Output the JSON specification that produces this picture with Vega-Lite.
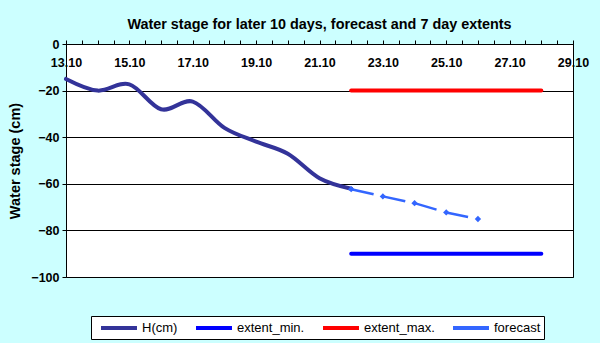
{
  "$schema": "https://vega.github.io/schema/vega-lite/v6.json",
  "width": 507,
  "height": 233,
  "autosize": {"type": "none"},
  "padding": {"left": 66, "top": 44, "right": 27, "bottom": 66},
  "background": "#CCFFFF",
  "title": {
    "text": "Water stage for later 10 days, forecast and 7 day  extents",
    "fontSize": 14.4,
    "fontWeight": "bold",
    "font": "Liberation Sans",
    "color": "black",
    "baseline": "bottom",
    "offset": -8
  },
  "config": {
    "font": "Liberation Sans",
    "view": {"fill": "white", "stroke": "black", "strokeWidth": 1}
  },
  "data": {
    "values": [
      {"date": "2011-10-13T00:00:00", "value": -15, "series": "H(cm)"},
      {"date": "2011-10-14T00:00:00", "value": -20, "series": "H(cm)"},
      {"date": "2011-10-15T00:00:00", "value": -17.3, "series": "H(cm)"},
      {"date": "2011-10-16T00:00:00", "value": -28, "series": "H(cm)"},
      {"date": "2011-10-17T00:00:00", "value": -24.7, "series": "H(cm)"},
      {"date": "2011-10-18T00:00:00", "value": -36, "series": "H(cm)"},
      {"date": "2011-10-19T00:00:00", "value": -41.9, "series": "H(cm)"},
      {"date": "2011-10-20T00:00:00", "value": -47.1, "series": "H(cm)"},
      {"date": "2011-10-21T00:00:00", "value": -57.6, "series": "H(cm)"},
      {"date": "2011-10-22T00:00:00", "value": -62.1, "series": "H(cm)"},
      {"date": "2011-10-22T00:00:00", "value": -90, "series": "extent_min."},
      {"date": "2011-10-28T00:00:00", "value": -90, "series": "extent_min."},
      {"date": "2011-10-22T00:00:00", "value": -20, "series": "extent_max."},
      {"date": "2011-10-28T00:00:00", "value": -20, "series": "extent_max."},
      {"date": "2011-10-22T00:00:00", "value": -62.3, "series": "forecast"},
      {"date": "2011-10-23T00:00:00", "value": -65.4, "series": "forecast"},
      {"date": "2011-10-24T00:00:00", "value": -68.3, "series": "forecast"},
      {"date": "2011-10-25T00:00:00", "value": -72.3, "series": "forecast"},
      {"date": "2011-10-26T00:00:00", "value": -75.1, "series": "forecast"}
    ]
  },
  "encoding": {
    "x": {
      "field": "date",
      "type": "temporal",
      "scale": {
        "domain": [
          {"year": 2011, "month": 10, "date": 13},
          {"year": 2011, "month": 10, "date": 29}
        ],
        "nice": false
      },
      "axis": {
        "orient": "top",
        "title": null,
        "grid": false,
        "domain": true,
        "domainColor": "black",
        "domainWidth": 1,
        "ticks": true,
        "tickColor": "black",
        "tickSize": 4,
        "values": [
          {"year": 2011, "month": 10, "date": 13}, {"year": 2011, "month": 10, "date": 13, "hours": 12},
          {"year": 2011, "month": 10, "date": 14}, {"year": 2011, "month": 10, "date": 14, "hours": 12},
          {"year": 2011, "month": 10, "date": 15}, {"year": 2011, "month": 10, "date": 15, "hours": 12},
          {"year": 2011, "month": 10, "date": 16}, {"year": 2011, "month": 10, "date": 16, "hours": 12},
          {"year": 2011, "month": 10, "date": 17}, {"year": 2011, "month": 10, "date": 17, "hours": 12},
          {"year": 2011, "month": 10, "date": 18}, {"year": 2011, "month": 10, "date": 18, "hours": 12},
          {"year": 2011, "month": 10, "date": 19}, {"year": 2011, "month": 10, "date": 19, "hours": 12},
          {"year": 2011, "month": 10, "date": 20}, {"year": 2011, "month": 10, "date": 20, "hours": 12},
          {"year": 2011, "month": 10, "date": 21}, {"year": 2011, "month": 10, "date": 21, "hours": 12},
          {"year": 2011, "month": 10, "date": 22}, {"year": 2011, "month": 10, "date": 22, "hours": 12},
          {"year": 2011, "month": 10, "date": 23}, {"year": 2011, "month": 10, "date": 23, "hours": 12},
          {"year": 2011, "month": 10, "date": 24}, {"year": 2011, "month": 10, "date": 24, "hours": 12},
          {"year": 2011, "month": 10, "date": 25}, {"year": 2011, "month": 10, "date": 25, "hours": 12},
          {"year": 2011, "month": 10, "date": 26}, {"year": 2011, "month": 10, "date": 26, "hours": 12},
          {"year": 2011, "month": 10, "date": 27}, {"year": 2011, "month": 10, "date": 27, "hours": 12},
          {"year": 2011, "month": 10, "date": 28}, {"year": 2011, "month": 10, "date": 28, "hours": 12},
          {"year": 2011, "month": 10, "date": 29}
        ],
        "labelExpr": "hours(datum.value) == 0 && date(datum.value) % 2 == 1 ? timeFormat(datum.value, '%d.%m') : ''",
        "labelOverlap": false,
        "labelFlush": false,
        "labelBaseline": "middle",
        "labelPadding": -22,
        "labelFont": "Liberation Sans",
        "labelFontSize": 12.5,
        "labelFontWeight": "bold",
        "labelColor": "black"
      }
    },
    "y": {
      "field": "value",
      "type": "quantitative",
      "scale": {"domain": [-100, 0], "nice": false},
      "axis": {
        "title": "Water stage (cm)",
        "titleFont": "Liberation Sans",
        "titleFontSize": 14.5,
        "titleFontWeight": "bold",
        "titleColor": "black",
        "titlePadding": 8,
        "values": [-100, -80, -60, -40, -20, 0],
        "grid": true,
        "gridColor": "black",
        "gridWidth": 1,
        "gridOpacity": 1,
        "domain": false,
        "tickColor": "black",
        "tickSize": 4,
        "labelPadding": 3,
        "labelFont": "Liberation Sans",
        "labelFontSize": 12.5,
        "labelFontWeight": "bold",
        "labelColor": "black"
      }
    },
    "color": {
      "field": "series",
      "type": "nominal",
      "scale": {
        "domain": ["H(cm)", "extent_min.", "extent_max.", "forecast"],
        "range": ["#333399", "#0000FF", "#FF0000", "#3366FF"]
      },
      "legend": {
        "title": null,
        "orient": "none",
        "legendX": 25,
        "legendY": 272,
        "direction": "horizontal",
        "fillColor": "white",
        "strokeColor": "black",
        "padding": 3,
        "symbolType": "M-2.57,0L2.57,0",
        "symbolSize": 196,
        "symbolOffset": 16,
        "symbolStrokeWidth": 4,
        "labelFont": "Liberation Sans",
        "labelFontSize": 13,
        "labelColor": "black",
        "labelOffset": 14,
        "columnPadding": 10
      }
    }
  },
  "layer": [
    {
      "transform": [{"filter": "datum.series == 'H(cm)'"}],
      "mark": {"type": "line", "interpolate": "cardinal", "strokeWidth": 4, "strokeCap": "round"}
    },
    {
      "transform": [{"filter": "datum.series == 'extent_min.' || datum.series == 'extent_max.'"}],
      "mark": {"type": "line", "strokeWidth": 4, "strokeCap": "round"}
    },
    {
      "transform": [{"filter": "datum.series == 'forecast'"}],
      "mark": {"type": "line", "strokeWidth": 2.5, "strokeDash": [23, 9.4]}
    },
    {
      "transform": [{"filter": "datum.series == 'forecast'"}],
      "mark": {"type": "point", "shape": "diamond", "filled": true, "size": 40, "opacity": 1}
    }
  ]
}
